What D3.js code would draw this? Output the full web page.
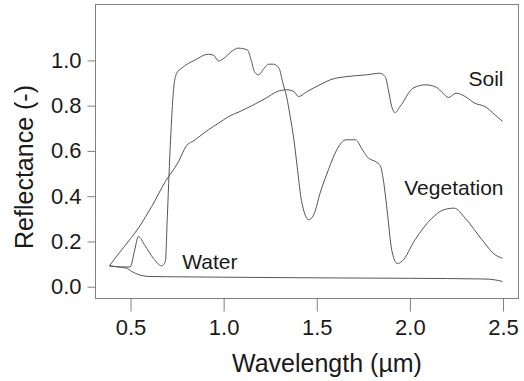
<!DOCTYPE html>
<html>
<head>
<meta charset="utf-8">
<script src="https://cdn.jsdelivr.net/npm/d3@7"></script>
<style>
  body { margin: 0; background: #fff; }
  svg { display: block; }
</style>
</head>
<body>
<svg id="chart"></svg>
<script>
// Spectral reflectance curves
const vegWl = [0.39, 0.45, 0.50, 0.525, 0.545, 0.58, 0.625, 0.67, 0.69, 0.70, 0.715, 0.735, 0.75, 0.78, 0.85, 0.92, 0.95, 0.975, 1.00, 1.05, 1.08, 1.13, 1.15, 1.17, 1.19, 1.22, 1.245, 1.27, 1.30, 1.32, 1.34, 1.36, 1.38, 1.40, 1.42, 1.46, 1.49, 1.52, 1.565, 1.61, 1.66, 1.71, 1.75, 1.78, 1.82, 1.845, 1.86, 1.88, 1.905, 1.935, 1.96, 2.03, 2.12, 2.185, 2.24, 2.30, 2.39, 2.46, 2.50];
const vegR = [0.09, 0.085, 0.085, 0.16, 0.22, 0.18, 0.124, 0.09, 0.11, 0.30, 0.60, 0.88, 0.94, 0.965, 1.0, 1.025, 1.02, 0.995, 1.005, 1.04, 1.052, 1.044, 1.00, 0.945, 0.934, 0.963, 0.981, 0.981, 0.963, 0.90, 0.84, 0.75, 0.647, 0.51, 0.38, 0.294, 0.323, 0.41, 0.514, 0.603, 0.647, 0.647, 0.60, 0.566, 0.55, 0.53, 0.47, 0.338, 0.161, 0.10, 0.11, 0.205, 0.30, 0.338, 0.345, 0.30, 0.205, 0.139, 0.124];

const soilWl = [0.39, 0.42, 0.47, 0.545, 0.616, 0.69, 0.76, 0.80, 0.85, 0.92, 0.975, 1.03, 1.09, 1.16, 1.23, 1.29, 1.34, 1.38, 1.405, 1.45, 1.52, 1.575, 1.66, 1.77, 1.84, 1.87, 1.887, 1.905, 1.923, 1.95, 2.02, 2.085, 2.145, 2.18, 2.21, 2.25, 2.30, 2.35, 2.405, 2.46, 2.50];
const soilR = [0.09, 0.124, 0.176, 0.257, 0.352, 0.463, 0.55, 0.617, 0.647, 0.691, 0.72, 0.75, 0.772, 0.80, 0.831, 0.86, 0.868, 0.86, 0.838, 0.86, 0.89, 0.912, 0.926, 0.934, 0.941, 0.926, 0.868, 0.794, 0.767, 0.794, 0.875, 0.89, 0.879, 0.853, 0.834, 0.853, 0.838, 0.809, 0.794, 0.757, 0.728];

const waterWl = [0.39, 0.44, 0.48, 0.51, 0.55, 0.60, 0.70, 1.0, 1.5, 2.0, 2.4, 2.46, 2.50];
const waterR = [0.09, 0.085, 0.08, 0.065, 0.05, 0.043, 0.042, 0.04, 0.037, 0.035, 0.032, 0.028, 0.021];

const xTicks = [0.5, 1.0, 1.5, 2.0, 2.5];
const yTicks = [0.0, 0.2, 0.4, 0.6, 0.8, 1.0];

const seriesNames = ["Soil", "Vegetation", "Water"];
const labelWl = [2.5, 2.5, 0.78];
const labelR = [0.885, 0.405, 0.075];

const width = 524, height = 381;
const box = { left: 95, right: 518, top: 4, bottom: 298 };

const svg = d3.select("#chart")
  .attr("width", width)
  .attr("height", height)
  .style("font-family", "'Liberation Sans', Arial, sans-serif");

const x = d3.scaleLinear().domain([0.312, 2.583]).range([box.left, box.right]);
const y = d3.scaleLinear().domain([-0.052, 1.247]).range([box.bottom, box.top]);

// Plot frame
svg.append("rect")
  .attr("x", box.left + 0.5)
  .attr("y", box.top + 0.5)
  .attr("width", box.right - box.left)
  .attr("height", box.bottom - box.top)
  .attr("fill", "none")
  .attr("stroke", "#808080")
  .attr("stroke-width", 1);

// X axis, ticks hang below the frame
const xAxis = svg.append("g")
  .attr("transform", `translate(0.5,${box.bottom + 0.5})`)
  .call(d3.axisBottom(x).tickValues(xTicks).tickFormat(d3.format(".1f")).tickSize(13).tickPadding(8));
xAxis.select(".domain").remove();
xAxis.selectAll(".tick line").attr("stroke", "#808080");
xAxis.selectAll(".tick text")
  .attr("fill", "#1a1a1a")
  .style("font-size", "22px");

// Y axis, ticks left of the frame
const yAxis = svg.append("g")
  .attr("transform", `translate(${box.left + 0.5},0.5)`)
  .call(d3.axisLeft(y).tickValues(yTicks).tickFormat(d3.format(".1f")).tickSize(8).tickPadding(6));
yAxis.select(".domain").remove();
yAxis.selectAll(".tick line").attr("stroke", "#808080");
yAxis.selectAll(".tick text")
  .attr("fill", "#1a1a1a")
  .style("font-size", "22px");

// Curves
const line = d3.line()
  .x(d => x(d[0]))
  .y(d => y(d[1]))
  .curve(d3.curveMonotoneX);

[[soilWl, soilR], [vegWl, vegR], [waterWl, waterR]].forEach(([wl, r]) => {
  svg.append("path")
    .datum(d3.zip(wl, r))
    .attr("d", line)
    .attr("fill", "none")
    .attr("stroke", "#555")
    .attr("stroke-width", 1);
});

// Series labels
svg.selectAll(".series-label")
  .data(seriesNames)
  .enter()
  .append("text")
  .attr("class", "series-label")
  .attr("x", (d, i) => x(labelWl[i]) + (i < 2 ? 1 : 0))
  .attr("y", (d, i) => y(labelR[i]))
  .attr("text-anchor", (d, i) => i < 2 ? "end" : "start")
  .attr("fill", "#1a1a1a")
  .style("font-size", "21px")
  .text(d => d);

// Axis titles
svg.append("text")
  .attr("x", 327)
  .attr("y", 372)
  .attr("text-anchor", "middle")
  .attr("fill", "#1a1a1a")
  .style("font-size", "25px")
  .text("Wavelength (µm)");

svg.append("text")
  .attr("transform", "translate(33,167) rotate(-90)")
  .attr("text-anchor", "middle")
  .attr("fill", "#1a1a1a")
  .style("font-size", "25px")
  .text("Reflectance (-)");
</script>
</body>
</html>
